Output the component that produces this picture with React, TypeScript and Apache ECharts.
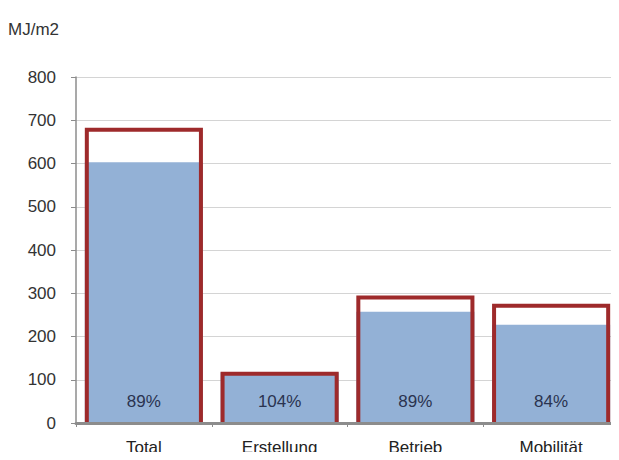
import React, { useEffect, useRef } from "react";
import * as echarts from "echarts";

const categories = ["Total", "Erstellung", "Betrieb", "Mobilität"];
const actualValues = [603, 117, 257, 227];
const targetValues = [678, 114, 290, 271];
const percentLabels = ["89%", "104%", "89%", "84%"];
const yTicks = { min: 0, max: 800, interval: 100 };
const unitLabel = "MJ/m2";

export default function App() {
  const ref = useRef<HTMLDivElement>(null);
  useEffect(() => {
    if (!ref.current) return;
    const chart = echarts.init(ref.current, null, { renderer: "svg" });
    const font = "Liberation Sans, Arial, sans-serif";
    const barFrac = 0.87;
    chart.setOption({
      animation: false,
      backgroundColor: "#ffffff",
      textStyle: { fontFamily: font },
      graphic: [
        {
          type: "text",
          left: 8,
          top: 21,
          style: { text: unitLabel, fontSize: 17, fill: "#333", fontFamily: font },
        },
      ],
      grid: { left: 76, right: 0, top: 77, bottom: 37, containLabel: false },
      xAxis: {
        type: "category",
        data: categories,
        z: 10,
        axisLine: { show: true, lineStyle: { color: "#8c8c8c", width: 3 } },
        axisTick: { show: true, length: 4, lineStyle: { color: "#8c8c8c" } },
        axisLabel: { fontSize: 17, color: "#222", margin: 16, fontFamily: font },
      },
      yAxis: {
        type: "value",
        min: yTicks.min,
        max: yTicks.max,
        interval: yTicks.interval,
        axisLine: { show: true, lineStyle: { color: "#8c8c8c", width: 1.5 } },
        axisTick: { show: true, length: 5, lineStyle: { color: "#8c8c8c" } },
        axisLabel: { fontSize: 17, color: "#333", margin: 20, fontFamily: font },
        splitLine: { lineStyle: { color: "#d4d4d4" } },
      },
      series: [
        {
          type: "bar",
          data: actualValues,
          barWidth: barFrac * 100 + "%",
          itemStyle: { color: "#93b1d6" },
          label: {
            show: true,
            position: "insideBottom",
            distance: 13,
            fontSize: 17,
            color: "#2a3350",
            fontFamily: font,
            formatter: (p: any) => percentLabels[p.dataIndex],
          },
          z: 2,
        },
        {
          type: "custom",
          data: targetValues.map((v, i) => [i, v]),
          z: 3,
          renderItem: (params: any, api: any) => {
            const idx = api.value(0);
            const val = api.value(1);
            const top = api.coord([idx, val]);
            const base = api.coord([idx, 0]);
            const band = api.size([1, 0])[0];
            const w = band * barFrac;
            const l = top[0] - w / 2 + 2;
            const r = top[0] + w / 2 - 2;
            return {
              type: "polyline",
              shape: {
                points: [
                  [l, base[1]],
                  [l, top[1]],
                  [r, top[1]],
                  [r, base[1]],
                ],
              },
              style: { stroke: "#9e2a2b", lineWidth: 4, fill: "none", lineJoin: "miter" },
            };
          },
        },
      ],
    });
    return () => chart.dispose();
  }, []);
  return <div ref={ref} style={{ width: 619, height: 460, margin: -8 }} />;
}
